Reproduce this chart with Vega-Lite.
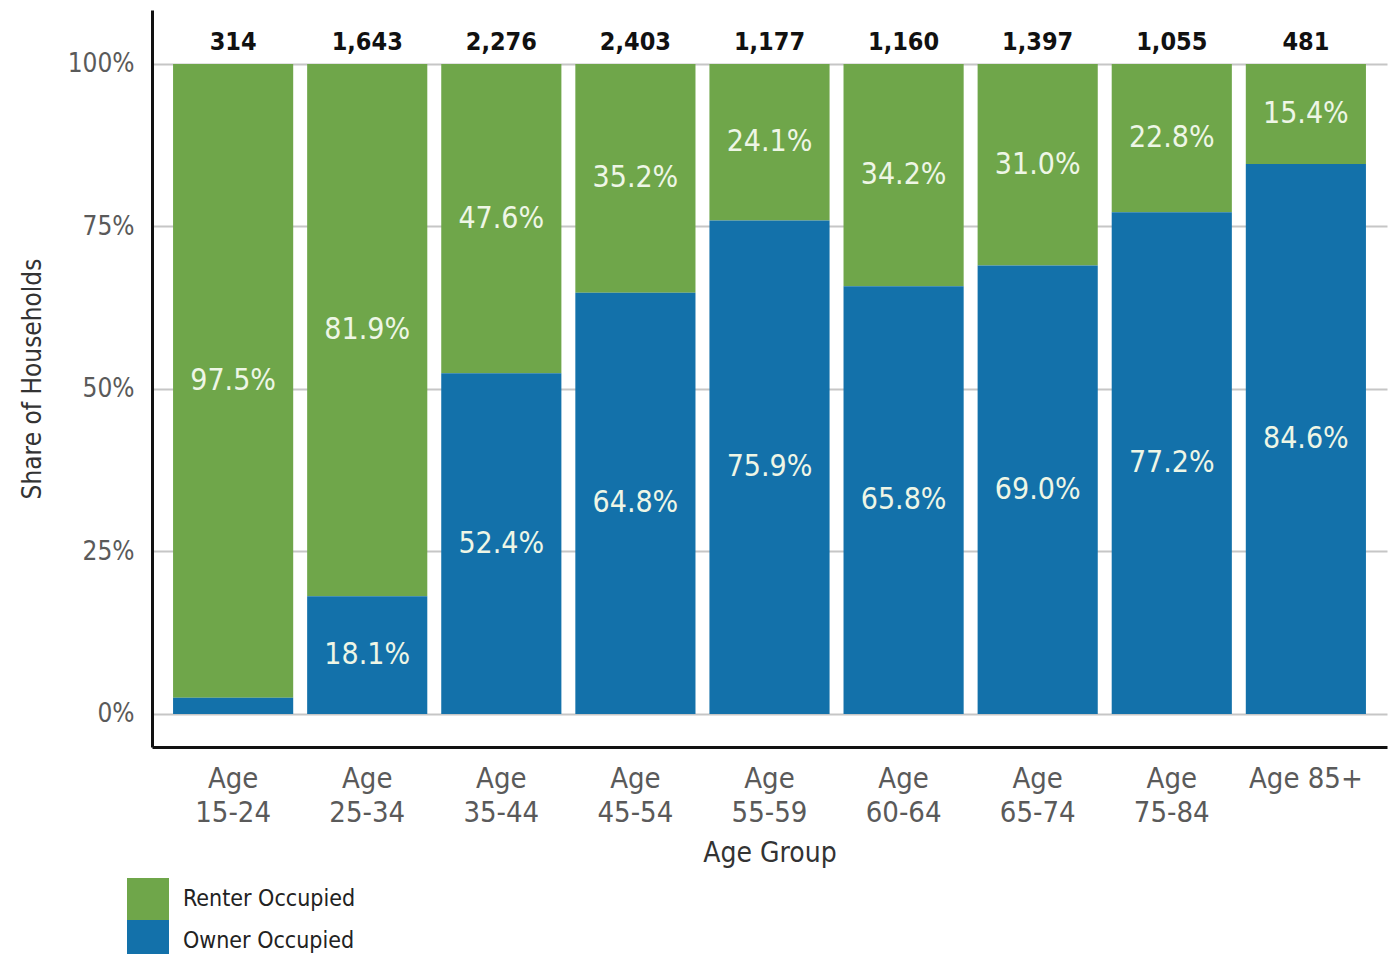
{
  "$schema": "https://vega.github.io/schema/vega-lite/v6.json",
  "autosize": "none",
  "width": 1235,
  "height": 737,
  "padding": {"left": 152, "top": 10, "right": 10, "bottom": 207},
  "background": "white",
  "config": {
    "view": {"stroke": null},
    "font": "DejaVu Sans Condensed, DejaVu Sans",
    "axis": {"labelFont": "DejaVu Sans Condensed, DejaVu Sans", "titleFont": "DejaVu Sans Condensed, DejaVu Sans"},
    "legend": {"labelFont": "DejaVu Sans Condensed, DejaVu Sans"}
  },
  "data": {
    "values": [
      {"age": "Age 15-24", "Renter Occupied": 0.975, "Owner Occupied": 0.025, "households": 314},
      {"age": "Age 25-34", "Renter Occupied": 0.819, "Owner Occupied": 0.181, "households": 1643},
      {"age": "Age 35-44", "Renter Occupied": 0.476, "Owner Occupied": 0.524, "households": 2276},
      {"age": "Age 45-54", "Renter Occupied": 0.352, "Owner Occupied": 0.648, "households": 2403},
      {"age": "Age 55-59", "Renter Occupied": 0.241, "Owner Occupied": 0.759, "households": 1177},
      {"age": "Age 60-64", "Renter Occupied": 0.342, "Owner Occupied": 0.658, "households": 1160},
      {"age": "Age 65-74", "Renter Occupied": 0.310, "Owner Occupied": 0.690, "households": 1397},
      {"age": "Age 75-84", "Renter Occupied": 0.228, "Owner Occupied": 0.772, "households": 1055},
      {"age": "Age 85+", "Renter Occupied": 0.154, "Owner Occupied": 0.846, "households": 481}
    ]
  },
  "transform": [
    {"fold": ["Renter Occupied", "Owner Occupied"], "as": ["type", "share"]}
  ],
  "encoding": {
    "x": {
      "field": "age",
      "type": "nominal",
      "sort": null,
      "scale": {"paddingInner": 0.104, "paddingOuter": 0.157},
      "axis": {
        "title": "Age Group",
        "labelAngle": 0,
        "labelExpr": "datum.label == 'Age 85+' ? datum.label : split(datum.label, ' ')",
        "labelFontSize": 29,
        "labelColor": "#5a5a5a",
        "labelLineHeight": 34,
        "labelPadding": 17,
        "labelBaseline": "top",
        "ticks": false,
        "domainColor": "#111111",
        "domainWidth": 3,
        "titleFontSize": 28,
        "titleFontWeight": "normal",
        "titleColor": "#333333",
        "titlePadding": 12,
        "grid": false
      }
    }
  },
  "layer": [
    {
      "mark": {"type": "bar"},
      "encoding": {
        "y": {
          "field": "share",
          "type": "quantitative",
          "stack": "zero",
          "scale": {"domain": [-0.0508, 1.083], "nice": false, "zero": false},
          "axis": {
            "title": "Share of Households",
            "values": [0, 0.25, 0.5, 0.75, 1],
            "format": ".0%",
            "labelFontSize": 26,
            "labelColor": "#5a5a5a",
            "labelPadding": 18,
            "ticks": false,
            "domainColor": "#111111",
            "domainWidth": 3,
            "grid": true,
            "gridColor": "#c6c6c6",
            "gridWidth": 2,
            "titleFontSize": 26,
            "titleFontWeight": "normal",
            "titleColor": "#333333",
            "titlePadding": 22
          }
        },
        "color": {
          "field": "type",
          "type": "nominal",
          "scale": {"domain": ["Renter Occupied", "Owner Occupied"], "range": ["#6fa64a", "#1371aa"]},
          "legend": {
            "title": null,
            "orient": "none",
            "legendX": -25,
            "legendY": 868,
            "symbolType": "square",
            "symbolSize": 1764,
            "symbolStrokeWidth": 0,
            "labelFontSize": 23,
            "labelColor": "#222222",
            "labelOffset": 14,
            "labelLimit": 400,
            "rowPadding": -2,
            "padding": 0
          }
        },
        "order": {"field": "type", "sort": "ascending"}
      }
    },
    {
      "mark": {"type": "text", "align": "center", "baseline": "middle", "fontSize": 30, "color": "#eef6e6"},
      "encoding": {
        "y": {"field": "share", "type": "quantitative", "stack": "zero", "bandPosition": 0.5},
        "text": {
          "condition": {"test": "datum.share < 0.05", "value": ""},
          "field": "share",
          "type": "quantitative",
          "format": ".1%"
        },
        "order": {"field": "type", "sort": "ascending"}
      }
    },
    {
      "transform": [{"filter": "datum.type == 'Owner Occupied'"}],
      "mark": {"type": "text", "align": "center", "baseline": "middle", "fontSize": 25, "fontWeight": "bold", "color": "#111111"},
      "encoding": {
        "y": {"datum": 1.034},
        "text": {"field": "households", "type": "quantitative", "format": ",d"}
      }
    }
  ]
}
